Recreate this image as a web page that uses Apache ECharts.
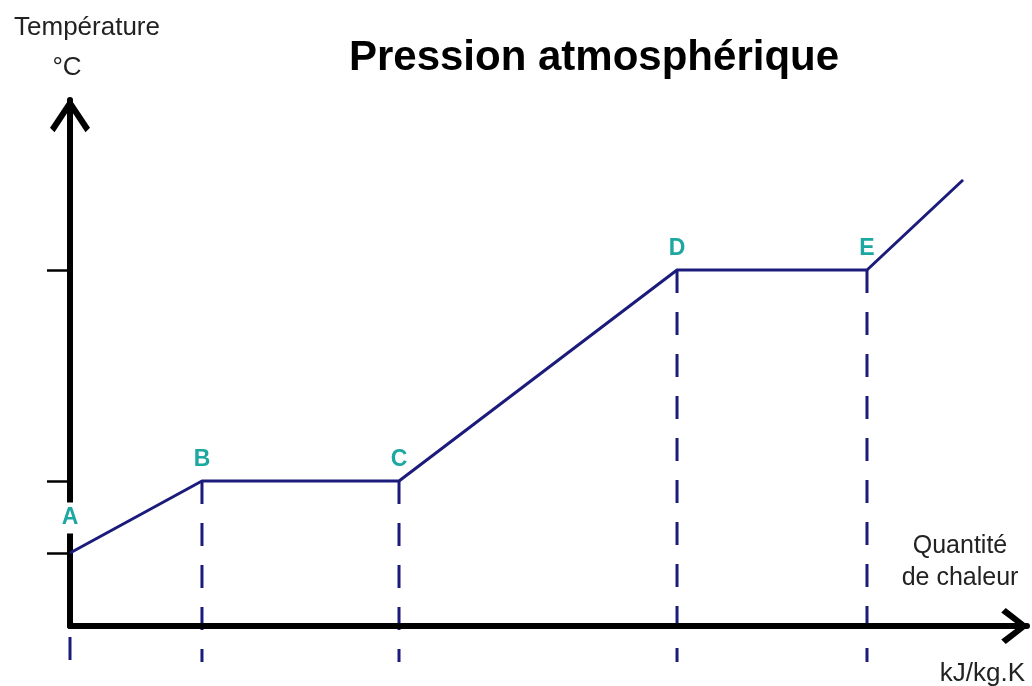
<!DOCTYPE html>
<html>
<head>
<meta charset="utf-8">
<script src="https://cdn.jsdelivr.net/npm/echarts@6/dist/echarts.min.js"></script>
<style>
html,body{margin:0;padding:0;background:#fff;}
#chart{width:1032px;height:686px;}
</style>
</head>
<body>
<div id="chart"></div>
<script>
// ---- data (arbitrary units) ----
const pointNames = ['A', 'B', 'C', 'D', 'E', ''];
const heatValues = [0, 13.79, 34.38, 63.43, 83.28, 93.31];
const tempValues = [13.88, 27.57, 27.57, 67.68, 67.68, 84.79];
const tempTicks = [13.88, 27.57, 67.68];
const dropBottom = -6.84;
const dropCount = 5; // A..E

const FONT = 'Liberation Sans, Arial, Helvetica, sans-serif';
const NAVY = '#1b1b7c';
const TEAL = '#1ca7a0';

const chart = echarts.init(document.getElementById('chart'));

const curveData = heatValues.map((x, i) => {
  const item = { value: [x, tempValues[i]], name: pointNames[i] };
  if (i === 0) {
    item.label = { distance: 19, backgroundColor: '#ffffff', padding: [4, 3] };
  }
  return item;
});

const dropSeries = [];
for (let i = 0; i < dropCount; i++) {
  dropSeries.push({
    type: 'line',
    z: -1,
    clip: false,
    silent: true,
    symbol: 'none',
    data: [[heatValues[i], tempValues[i]], [heatValues[i], dropBottom]],
    lineStyle: { color: NAVY, width: 3, type: [23, 19] }
  });
}

const option = {
  animation: false,
  backgroundColor: '#ffffff',
  grid: { left: 70, right: 5, top: 100, bottom: 60, containLabel: false },
  xAxis: {
    type: 'value', min: 0, max: 100,
    axisLine: {
      onZero: false,
      lineStyle: { color: '#000', width: 6, cap: 'round' },
      symbol: ['none', 'path://M18,0L36,23L31.5,27.5L18,9.5L4.5,27.5L0,23Z'],
      symbolSize: [36, 27.5],
      symbolOffset: [0, -12]
    },
    axisTick: { show: false },
    axisLabel: { show: false },
    splitLine: { show: false }
  },
  yAxis: {
    type: 'value', min: 0, max: 100,
    axisLine: {
      onZero: false,
      lineStyle: { color: '#000', width: 6, cap: 'round' },
      symbol: ['none', 'path://M20,0L40,30L35.5,34.5L20,11L4.5,34.5L0,30Z'],
      symbolSize: [40, 34.5],
      symbolOffset: [0, -15]
    },
    axisTick: {
      show: true, inside: false, length: 23,
      customValues: tempTicks,
      lineStyle: { color: '#000', width: 2.5 }
    },
    axisLabel: { show: false },
    splitLine: { show: false }
  },
  series: [
    {
      type: 'line',
      z: 3,
      clip: false,
      symbol: 'circle',
      symbolSize: 1,
      itemStyle: { color: NAVY },
      lineStyle: { color: NAVY, width: 3 },
      data: curveData,
      label: {
        show: true,
        position: 'top',
        distance: 9,
        formatter: p => p.name,
        color: TEAL,
        fontFamily: FONT,
        fontWeight: 'bold',
        fontSize: 23
      }
    }
  ].concat(dropSeries),
  graphic: [
    { type: 'text', x: 594, y: 58, silent: true, z: 10,
      style: { text: 'Pression atmosphérique', font: 'bold 42px ' + FONT, fill: '#000', align: 'center', verticalAlign: 'middle' } },
    { type: 'text', x: 87, y: 28, silent: true, z: 10,
      style: { text: 'Température', font: '26px ' + FONT, fill: '#222', align: 'center', verticalAlign: 'middle' } },
    { type: 'text', x: 67, y: 68, silent: true, z: 10,
      style: { text: '°C', font: '26px ' + FONT, fill: '#222', align: 'center', verticalAlign: 'middle' } },
    { type: 'text', x: 960, y: 546, silent: true, z: 10,
      style: { text: 'Quantité', font: '25px ' + FONT, fill: '#222', align: 'center', verticalAlign: 'middle' } },
    { type: 'text', x: 960, y: 578, silent: true, z: 10,
      style: { text: 'de chaleur', font: '25px ' + FONT, fill: '#222', align: 'center', verticalAlign: 'middle' } },
    { type: 'text', x: 1025, y: 674, silent: true, z: 10,
      style: { text: 'kJ/kg.K', font: '26px ' + FONT, fill: '#222', align: 'right', verticalAlign: 'middle' } }
  ]
};

chart.setOption(option);
</script>
</body>
</html>
